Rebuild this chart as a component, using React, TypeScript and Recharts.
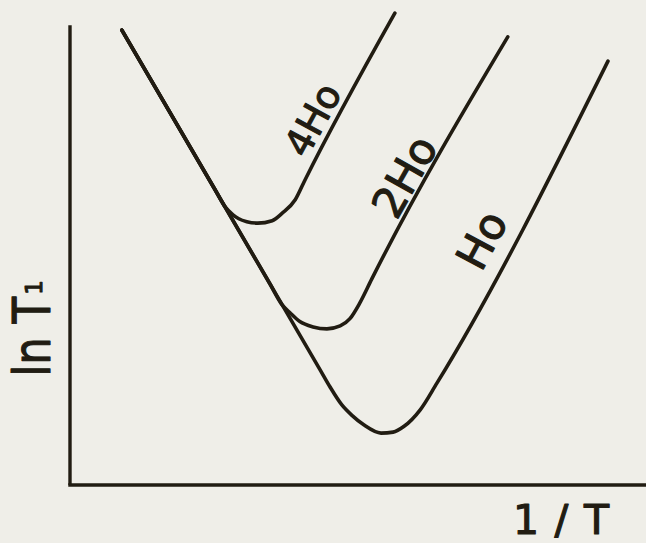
import React from 'react';
import { LineChart, Line, XAxis, YAxis, ReferenceLine, ReferenceDot } from 'recharts';

// Spin-lattice relaxation sketch: ln T1 against inverse temperature
// for three field strengths. Units are arbitrary (0..10 on both axes).

const INK = '#211c12';
const PAPER = '#efeee8';
const FONT = '"DejaVu Sans", "Noto Sans", sans-serif';

const curve4H0 = [
  { x: 0.9, y: 9.38 },
  { x: 2.52, y: 6.09 },
  { x: 2.69, y: 5.74 },
  { x: 2.83, y: 5.57 },
  { x: 2.93, y: 5.49 },
  { x: 3.07, y: 5.43 },
  { x: 3.26, y: 5.4 },
  { x: 3.51, y: 5.45 },
  { x: 3.68, y: 5.6 },
  { x: 3.91, y: 5.88 },
  { x: 4.08, y: 6.29 },
  { x: 5.64, y: 9.73 },
];

const curve2H0 = [
  { x: 0.9, y: 9.38 },
  { x: 3.47, y: 4.15 },
  { x: 3.68, y: 3.72 },
  { x: 3.82, y: 3.55 },
  { x: 3.99, y: 3.37 },
  { x: 4.22, y: 3.26 },
  { x: 4.46, y: 3.22 },
  { x: 4.69, y: 3.28 },
  { x: 4.86, y: 3.43 },
  { x: 5.03, y: 3.75 },
  { x: 5.24, y: 4.25 },
  { x: 7.6, y: 9.24 },
];

const curveH0 = [
  { x: 0.9, y: 9.38 },
  { x: 4.34, y: 2.38 },
  { x: 4.51, y: 2.03 },
  { x: 4.72, y: 1.65 },
  { x: 4.9, y: 1.43 },
  { x: 5.1, y: 1.24 },
  { x: 5.4, y: 1.07 },
  { x: 5.61, y: 1.09 },
  { x: 5.8, y: 1.21 },
  { x: 6.08, y: 1.55 },
  { x: 6.37, y: 2.1 },
  { x: 9.34, y: 8.74 },
];

const seriesNames = ['4Ho', '2Ho', 'Ho'];
const xTitle = '1/T';
const yTitle = 'ln T';
const yTitleSub = '1';
const yAxisTop = 9.48;

const W = 646;
const H = 543;

type Vb = { x?: number; y?: number; width?: number; height?: number };

const centerOf = (props: any) => {
  const vb: Vb = props.viewBox || {};
  return {
    cx: (vb.x ?? 0) + (vb.width ?? 0) / 2,
    cy: (vb.y ?? 0) + (vb.height ?? 0) / 2,
  };
};

// hand-lettered look: regular glyphs with a thin outline of the same ink
const pen = { fill: INK, stroke: INK, strokeWidth: 1.1, strokeLinejoin: 'round' as const };

const slantedName = (text: string, angle: number, size: number) => (props: any) => {
  const { cx, cy } = centerOf(props);
  return (
    <text
      x={cx}
      y={cy}
      transform={`rotate(${angle} ${cx} ${cy})`}
      textAnchor="middle"
      dominantBaseline="central"
      fontFamily={FONT}
      fontSize={size}
      {...pen}
    >
      {text}
    </text>
  );
};

const xTitleLabel = (props: any) => {
  const { cx, cy } = centerOf(props);
  return (
    <text
      x={cx}
      y={cy}
      textAnchor="start"
      fontFamily={FONT}
      fontSize={41}
      textLength={96}
      lengthAdjust="spacing"
      {...pen}
    >
      {xTitle}
    </text>
  );
};

const yTitleLabel = (props: any) => {
  const { cx, cy } = centerOf(props);
  return (
    <text
      x={cx}
      y={cy}
      transform={`rotate(-90 ${cx} ${cy})`}
      textAnchor="start"
      fontFamily={FONT}
      fontSize={52}
      {...pen}
    >
      <tspan textLength={80} lengthAdjust="spacingAndGlyphs">
        {yTitle}
      </tspan>
      <tspan fontSize={23} dy={-8} dx={2}>
        {yTitleSub}
      </tspan>
    </text>
  );
};

export default function App() {
  const lineProps = {
    dataKey: 'y',
    type: 'monotoneX' as const,
    stroke: INK,
    strokeWidth: 3.6,
    dot: false,
    activeDot: false,
    isAnimationActive: false,
    strokeLinecap: 'round' as const,
  };

  return (
    <div
      style={{
        position: 'absolute',
        left: 0,
        top: 0,
        width: W,
        height: H,
        background: PAPER,
        overflow: 'hidden',
      }}
    >
      <LineChart width={W} height={H} margin={{ top: 0, right: 0, bottom: 58, left: 70 }}>
        <XAxis type="number" dataKey="x" domain={[0, 10]} hide allowDataOverflow />
        <YAxis type="number" dataKey="y" domain={[0, 10]} hide allowDataOverflow />

        <ReferenceLine
          segment={[{ x: 0, y: 0 }, { x: 0, y: yAxisTop }]}
          stroke={INK}
          strokeWidth={3.4}
          ifOverflow="visible"
        />
        <ReferenceLine
          segment={[{ x: -0.03, y: 0 }, { x: 10, y: 0 }]}
          stroke={INK}
          strokeWidth={3.4}
          ifOverflow="visible"
        />

        <Line {...lineProps} data={curve4H0} name={seriesNames[0]} />
        <Line {...lineProps} data={curve2H0} name={seriesNames[1]} />
        <Line {...lineProps} data={curveH0} name={seriesNames[2]} />

        <ReferenceDot x={4.22} y={7.53} r={1} fill="none" stroke="none" ifOverflow="visible"
          label={{ content: slantedName(seriesNames[0], -61.5, 38) }} />
        <ReferenceDot x={5.81} y={6.36} r={1} fill="none" stroke="none" ifOverflow="visible"
          label={{ content: slantedName(seriesNames[1], -60.5, 43) }} />
        <ReferenceDot x={7.15} y={5.05} r={1} fill="none" stroke="none" ifOverflow="visible"
          label={{ content: slantedName(seriesNames[2], -62, 43) }} />

        <ReferenceDot x={7.69} y={-1.0} r={1} fill="none" stroke="none" ifOverflow="visible"
          label={{ content: xTitleLabel }} />
        <ReferenceDot x={-0.35} y={2.23} r={1} fill="none" stroke="none" ifOverflow="visible"
          label={{ content: yTitleLabel }} />
      </LineChart>
    </div>
  );
}
